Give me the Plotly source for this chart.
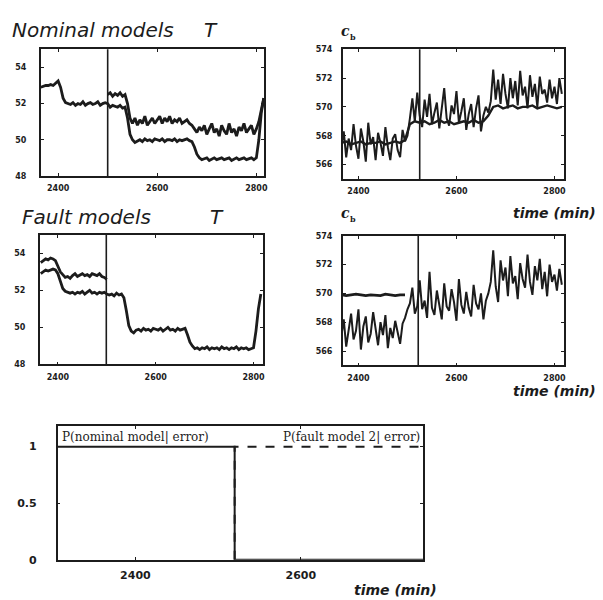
import plotly.graph_objects as go

# ---------------- data ----------------
# Temperature T, nominal models (5-min samples from 2365 to 2815)
t_T = list(range(2365, 2816, 5))
T_nom_meas = [
    52.9, 52.95, 53.0, 53.0, 53.05, 53.0, 53.1, 53.25, 52.9, 52.3,
    52.05, 52.0, 51.95, 52.05, 51.9, 52.0, 51.95, 52.1, 51.9, 52.0,
    52.05, 51.95, 52.0, 52.1, 51.9, 52.0, 52.05, 52.0, 51.8, 51.9,
    51.85, 51.8, 51.9, 51.75, 51.8, 51.2, 50.3, 50.0, 49.85, 49.95,
    50.0, 49.9, 50.05, 49.95, 50.0, 49.9, 50.05, 50.0, 49.95, 50.05,
    49.9, 50.0, 50.0, 49.95, 50.05, 49.9, 50.0, 49.95, 50.0, 50.05,
    49.95, 49.9, 49.6, 49.2, 49.0, 48.9, 48.95, 49.0, 48.85, 48.95,
    49.0, 48.9, 48.95, 49.0, 48.9, 48.95, 49.0, 48.85, 48.95, 49.0,
    48.9, 48.95, 49.0, 48.9, 48.95, 49.0, 48.9, 49.0, 50.0, 51.5,
    52.3,
]
t_T_nom_model = list(range(2500, 2816, 5))
T_nom_model = [
    52.5, 52.6, 52.4, 52.55, 52.45, 52.6, 52.4, 52.5, 52.0, 51.2,
    50.9, 51.2, 50.8, 51.1, 50.9, 51.3, 50.8, 51.0, 51.2, 50.9,
    51.1, 51.3, 50.9, 51.2, 51.0, 51.3, 50.9, 51.1, 51.0, 51.2,
    50.9, 51.0, 51.1, 50.9, 50.8, 50.6, 50.4, 50.7, 50.5, 50.8,
    50.3, 50.6, 50.9, 50.4, 50.6, 50.2, 50.8, 50.5, 50.3, 50.9,
    50.4, 50.6, 50.2, 50.7, 50.5, 50.9, 50.4, 50.6, 50.8, 50.3,
    50.6, 51.0, 51.6, 52.3,
]

# Temperature T, fault models
T_fault_meas = [
    52.9, 53.0, 53.1, 53.05, 53.1, 53.15, 53.1, 52.9, 52.5, 52.1,
    51.95, 51.9, 51.85, 51.9, 51.8, 51.9, 51.85, 51.95, 51.8, 51.9,
    52.0, 51.85, 51.9, 51.8, 51.9, 51.85, 51.9, 51.8, 51.75, 51.8,
    51.7, 51.85, 51.75, 51.8, 51.6, 50.9, 50.1, 49.8, 49.7, 49.85,
    49.9, 49.8, 49.95, 49.85, 49.9, 49.8, 49.95, 49.9, 49.85, 49.95,
    49.8, 49.9, 50.0, 49.85, 49.9, 49.8, 49.95, 49.85, 49.9, 49.95,
    49.6, 49.2, 49.0, 48.85, 48.9, 48.8, 48.9, 48.85, 48.95, 48.8,
    48.9, 48.85, 48.9, 48.8, 48.95, 48.85, 48.9, 48.8, 48.9, 48.85,
    48.95, 48.8, 48.9, 48.85, 48.9, 48.8, 48.85, 48.9, 49.8, 51.0,
    51.8,
]
t_T_fault_model = list(range(2365, 2501, 5))
T_fault_model = [
    53.5, 53.6, 53.7, 53.65, 53.75, 53.7, 53.6, 53.3, 53.0, 52.85,
    52.7, 52.75, 52.65, 52.8, 52.9, 52.75, 52.85, 52.9, 52.8, 52.85,
    52.75, 52.9, 52.85, 52.8, 52.9, 52.75, 52.7, 52.6,
]

# Concentration c_b, nominal models
t_cb = list(range(2365, 2816, 5))
cb_nom_meas = [
    567.2, 568.3, 566.5, 567.8, 567.0, 568.8, 567.3, 566.4, 568.5, 567.6,
    566.2, 568.9, 567.4, 567.9, 566.3, 568.2, 567.5, 566.6, 568.6, 567.2,
    566.3, 567.8, 568.1, 567.0, 566.5, 568.4, 567.6, 568.0,
    569.2, 570.6, 569.0, 571.0, 569.4, 568.6, 570.5, 569.3, 570.9, 568.8,
    569.6, 570.3, 568.5, 569.8, 571.3, 569.2, 568.7, 570.1, 569.5, 571.1,
    568.9, 569.7, 570.6, 568.4, 569.5, 570.2, 568.6, 569.9, 570.8, 568.3,
    569.4, 570.0, 569.6,
    570.4, 572.6, 570.5, 571.9, 570.2, 572.3, 570.9, 569.9, 572.0, 570.6,
    571.8, 570.1, 572.5, 570.8, 571.4, 569.9, 572.2, 570.7, 571.6, 570.0,
    572.1, 570.9, 571.2, 570.3, 571.9, 570.6, 571.4, 570.2, 572.0, 570.9,
]
t_cb_model = list(range(2365, 2816, 10))
cb_nom_model = [
    567.5, 567.6, 567.4, 567.5, 567.6, 567.4, 567.5, 567.5, 567.6, 567.4,
    567.5, 567.6, 567.5, 567.7,
    568.8, 569.0, 568.9, 569.0, 568.8, 568.9, 569.1, 568.9, 569.0, 568.8,
    568.9, 569.0, 568.9, 569.1, 568.9, 569.0, 569.4,
    570.0, 570.1, 569.9, 570.0, 570.1, 569.9, 570.0, 570.0, 570.1, 569.9,
    570.0, 570.1, 570.0, 569.9, 570.0,
]

# Concentration c_b, fault models
cb_fault_meas = [
    567.0, 568.2, 566.3, 567.6, 568.6, 566.8, 567.4, 568.9, 566.1, 567.7,
    568.4, 566.6, 567.2, 568.7, 567.5, 566.4, 568.0, 567.1, 568.5, 566.2,
    567.6, 566.9, 568.1, 567.3, 566.5, 567.9, 568.3, 568.9,
    569.3, 570.4, 568.6, 569.1, 570.9, 568.9, 569.5, 568.3, 571.5, 569.0,
    568.5, 570.2, 569.3, 568.2, 570.7, 569.1, 568.8, 570.3, 569.4, 568.1,
    571.0, 569.2, 568.6, 570.1, 569.0, 568.4, 570.6, 569.3, 568.9, 570.0,
    568.2, 569.5, 570.0,
    570.8, 573.0, 570.5, 569.4, 572.3, 570.9, 571.8, 569.8, 572.6, 570.7,
    571.2, 569.6, 572.1, 571.0, 570.4, 572.7, 570.8, 569.9, 571.9, 570.9,
    572.4, 570.3, 571.5, 569.8, 572.0, 570.8, 571.3, 570.2, 571.7, 570.6,
]
t_cb_fault_model = list(range(2365, 2496, 10))
cb_fault_model = [569.9, 569.85, 569.9, 569.95, 569.9, 569.85, 569.9,
                  569.9, 569.85, 569.95, 569.9, 569.85, 569.9, 569.9]

# Probabilities
p_time = [2306, 2520, 2520, 2748]
p_nominal = [1, 1, 0, 0]
p_fault = [0, 0, 1, 1]

# switch (fault onset) markers per panel
switch_times = [2500, 2525, 2499, 2522]

T_ticks = [48, 50, 52, 54]
cb_ticks = [566, 568, 570, 572, 574]
time_ticks = [2400, 2600, 2800]
p_ticks = [0, 0.5, 1]
p_time_ticks = [2400, 2600]

# ---------------- figure ----------------
W, H = 603, 600
INK = "#1c1c1c"


def dx(a, b):
    return [a / W, b / W]


def dy(top, bottom):
    return [1 - bottom / H, 1 - top / H]


fig = go.Figure()

line_w = 2.8
fig.add_trace(go.Scatter(x=t_T, y=T_nom_meas, mode="lines", line=dict(color=INK, width=line_w), xaxis="x", yaxis="y"))
fig.add_trace(go.Scatter(x=t_T_nom_model, y=T_nom_model, mode="lines", line=dict(color=INK, width=line_w), xaxis="x", yaxis="y"))
fig.add_trace(go.Scatter(x=t_cb, y=cb_nom_meas, mode="lines", line=dict(color=INK, width=2.0), xaxis="x2", yaxis="y2"))
fig.add_trace(go.Scatter(x=t_cb_model, y=cb_nom_model, mode="lines", line=dict(color=INK, width=2.4), xaxis="x2", yaxis="y2"))
fig.add_trace(go.Scatter(x=t_T, y=T_fault_meas, mode="lines", line=dict(color=INK, width=line_w), xaxis="x3", yaxis="y3"))
fig.add_trace(go.Scatter(x=t_T_fault_model, y=T_fault_model, mode="lines", line=dict(color=INK, width=line_w), xaxis="x3", yaxis="y3"))
fig.add_trace(go.Scatter(x=t_cb, y=cb_fault_meas, mode="lines", line=dict(color=INK, width=2.0), xaxis="x4", yaxis="y4"))
fig.add_trace(go.Scatter(x=t_cb_fault_model, y=cb_fault_model, mode="lines", line=dict(color=INK, width=2.8), xaxis="x4", yaxis="y4"))
fig.add_trace(go.Scatter(x=p_time, y=p_nominal, mode="lines", line=dict(color=INK, width=2), xaxis="x5", yaxis="y5"))
fig.add_trace(go.Scatter(x=p_time[1:], y=p_fault[1:], mode="lines", line=dict(color=INK, width=2, dash="dash"), xaxis="x5", yaxis="y5"))

tick_font = dict(family="DejaVu Sans", size=8, color=INK, weight="bold")


def axis(domain, rng, tickvals, anchor, standoff=4, font=tick_font):
    return dict(
        domain=domain, range=rng, tickvals=tickvals, anchor=anchor,
        showline=True, linecolor=INK, linewidth=1.6, mirror="ticks",
        ticks="inside", ticklen=3, tickcolor=INK, tickwidth=1.2,
        showgrid=False, zeroline=False, tickfont=font,
        ticklabelstandoff=standoff,
    )


big_tick = dict(family="DejaVu Sans", size=11, color=INK, weight="bold")
fig.update_layout(
    xaxis=axis(dx(33, 258), [2365, 2816], time_ticks, "y"),
    yaxis=axis(dy(38, 167), [48, 55], T_ticks, "x", 11),
    xaxis2=axis(dx(337, 560), [2368, 2820], time_ticks, "y2"),
    yaxis2=axis(dy(38, 170), [565, 574], cb_ticks, "x2", 7),
    xaxis3=axis(dx(32, 257), [2363, 2820], time_ticks, "y3"),
    yaxis3=axis(dy(227, 359), [48, 55], T_ticks, "x3", 11),
    xaxis4=axis(dx(337, 560), [2368, 2820], time_ticks, "y4"),
    yaxis4=axis(dy(228, 360), [565, 574], cb_ticks, "x4", 7),
    xaxis5=axis(dx(50, 418), [2306, 2748], p_time_ticks, "y5", 4, big_tick),
    yaxis5=axis(dy(422, 558), [0, 1.18], p_ticks, "x5", 17, big_tick),
)

shapes = []
for ax, t in zip(["x", "x2", "x3", "x4"], switch_times):
    yref = "y" if ax == "x" else "y" + ax[1:]
    shapes.append(dict(type="line", xref=ax, yref=yref + " domain", x0=t, x1=t, y0=0, y1=1,
                       line=dict(color=INK, width=1.6)))
fig.update_layout(shapes=shapes)

title_font = dict(family="DejaVu Sans", size=20, color=INK, style="italic")
lab_font = dict(family="DejaVu Sans", size=14, color=INK, style="italic", weight="bold")
c_font = dict(family="DejaVu Serif", size=14, color=INK, style="italic", weight="bold")
b_font = dict(family="DejaVu Serif", size=8, color=INK, weight="bold")
p_font = dict(family="DejaVu Serif", size=12, color=INK)
ann = [
    dict(text="Nominal models", x=2, y=18, font=title_font, xanchor="left"),
    dict(text="T", x=204, y=18, font=title_font, xanchor="center"),
    dict(text="Fault models", x=12, y=209, font=title_font, xanchor="left"),
    dict(text="T", x=210, y=209, font=title_font, xanchor="center"),
    dict(text="c", x=340, y=19, font=c_font, xanchor="center"),
    dict(text="b", x=347, y=25, font=b_font, xanchor="center"),
    dict(text="c", x=340, y=205, font=c_font, xanchor="center"),
    dict(text="b", x=347, y=211, font=b_font, xanchor="center"),
    dict(text="time (min)", x=594, y=205, font=lab_font, xanchor="right"),
    dict(text="time (min)", x=594, y=386, font=lab_font, xanchor="right"),
    dict(text="time (min)", x=434, y=589, font=lab_font, xanchor="right"),
    dict(text="P(nominal model| error)", x=52, y=433, font=p_font, xanchor="left"),
    dict(text="P(fault model 2| error)", x=417, y=433, font=p_font, xanchor="right"),
]
annotations = []
for a in ann:
    annotations.append(dict(text=a["text"], x=a["x"] / W, y=1 - a["y"] / H, xref="paper", yref="paper",
                            xanchor=a["xanchor"], yanchor="middle", showarrow=False, font=a["font"]))
fig.update_layout(annotations=annotations)

fig.update_layout(
    width=W, height=H, margin=dict(l=0, r=0, t=0, b=0),
    paper_bgcolor="white", plot_bgcolor="white", showlegend=False,
)

fig.write_html("out.html")
